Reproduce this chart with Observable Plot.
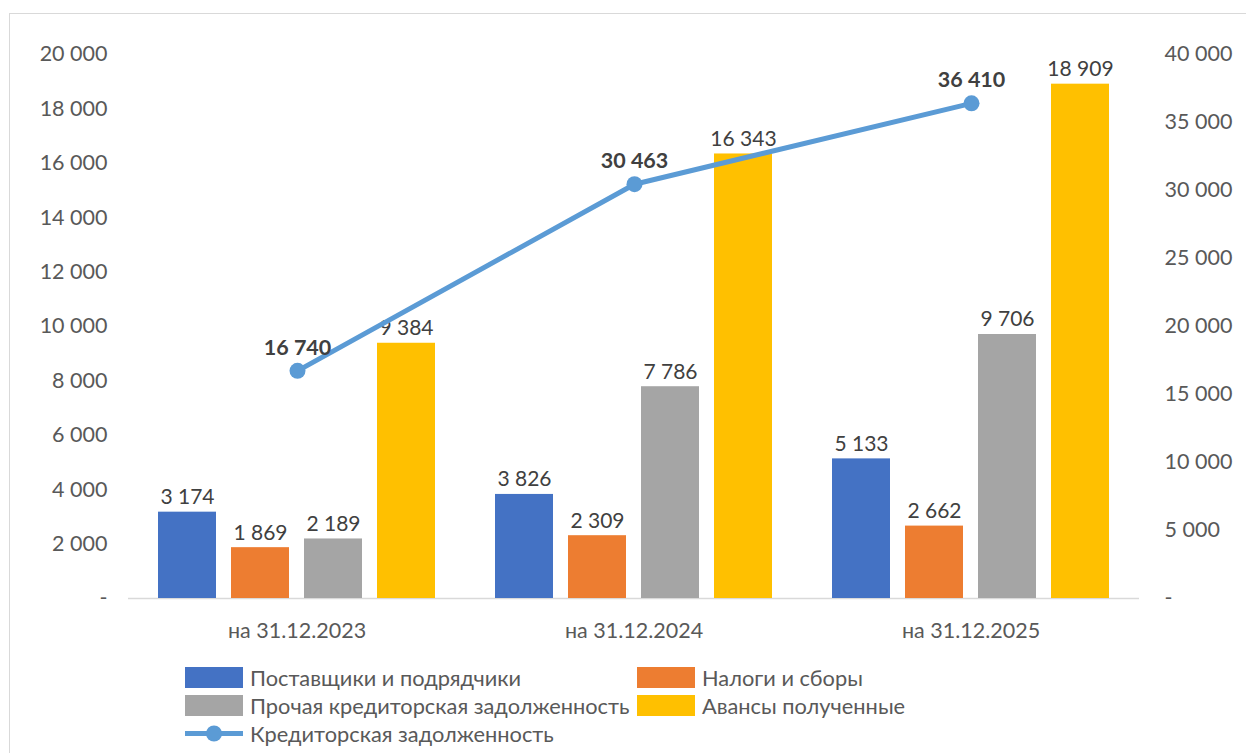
<!DOCTYPE html>
<html>
<head>
<meta charset="utf-8">
<script src="https://cdn.jsdelivr.net/npm/d3@7"></script>
<script src="https://cdn.jsdelivr.net/npm/@observablehq/plot@0.6"></script>
<style>
  html, body { margin: 0; padding: 0; background: #fff; overflow: hidden; }
  #frame { position: absolute; left: 9px; top: 13px; width: 1400px; height: 900px; border: 1px solid #d9d9d9; box-sizing: border-box; }
  #wrap { position: absolute; left: 0; top: 0; width: 1246px; height: 640px; }
  #wrap svg { position: absolute; left: 0; top: 0; }
  #legend { position: absolute; left: 185px; top: 663px; font-family: Lato, sans-serif; font-size: 21.8px; color: #595959; }
  .row { display: flex; height: 28px; align-items: center; }
  .item { display: flex; align-items: center; }
  .sw { width: 58px; height: 21px; margin-right: 7px; }
  .c1 { width: 452px; }
</style>
</head>
<body>
<div id="frame"></div>
<div id="wrap"></div>
<div id="legend"></div>
<script>
const groups = ["на 31.12.2023", "на 31.12.2024", "на 31.12.2025"];
const seriesNames = ["Поставщики и подрядчики", "Налоги и сборы", "Прочая кредиторская задолженность", "Авансы полученные"];
const seriesColors = ["#4472C4", "#ED7D31", "#A5A5A5", "#FFC000"];
const suppliers = [3174, 3826, 5133];
const taxes = [1869, 2309, 2662];
const otherPayables = [2189, 7786, 9706];
const advances = [9384, 16343, 18909];
const totalName = "Кредиторская задолженность";
const totalColor = "#5B9BD5";
const totalPayables = [16740, 30463, 36410];
const leftTicks = [0, 2000, 4000, 6000, 8000, 10000, 12000, 14000, 16000, 18000, 20000];
const rightTicks = [0, 5000, 10000, 15000, 20000, 25000, 30000, 35000, 40000];

const loc = d3.formatLocale({decimal: ",", thousands: "\u00a0", grouping: [3], currency: ["", ""]});
const fmt = loc.format(",");
const tickFmt = d => d === 0 ? "-" : fmt(d);

const seriesValues = [suppliers, taxes, otherPayables, advances];
const bars = [];
groups.forEach((g, i) => seriesNames.forEach((s, k) => bars.push({group: g, series: s, value: seriesValues[k][i]})));
const line = groups.map((g, i) => ({group: g, value: totalPayables[i]}));

const W = 1246, H = 640, ML = 127, MR = 106, MT = 54, MB = 42;

const p1 = Plot.plot({
  width: W, height: H, marginLeft: ML, marginRight: MR, marginTop: MT, marginBottom: MB,
  style: {fontFamily: "Lato, sans-serif", background: "transparent", overflow: "visible"},
  fx: {domain: groups, padding: 0, label: null},
  x: {domain: seriesNames, paddingInner: 0.2, paddingOuter: 0.38, axis: null},
  y: {domain: [0, 20000], label: null, axis: null},
  color: {domain: seriesNames, range: seriesColors},
  marks: [
    Plot.ruleY([0], {stroke: "#d9d9d9", strokeWidth: 1.5}),
    Plot.barY(bars, {fx: "group", x: "series", y: "value", fill: "series"}),
    Plot.text(bars, {fx: "group", x: "series", y: "value", text: d => fmt(d.value), lineAnchor: "bottom", dy: -8, fontSize: 21, fill: "#404040"}),
    Plot.axisY({ticks: leftTicks, tickFormat: tickFmt, tickSize: 0, tickPadding: 21, fontSize: 21.5, color: "#595959", label: null}),
    Plot.axisFx({anchor: "bottom", tickSize: 0, tickPadding: 24, fontSize: 21.5, color: "#595959", label: null})
  ]
});

const p2 = Plot.plot({
  width: W, height: H, marginLeft: ML, marginRight: MR, marginTop: MT, marginBottom: MB,
  style: {fontFamily: "Lato, sans-serif", background: "transparent", overflow: "visible"},
  x: {type: "point", domain: groups, padding: 0.5, axis: null},
  y: {domain: [0, 40000], label: null, axis: null},
  marks: [
    Plot.line(line, {x: "group", y: "value", stroke: totalColor, strokeWidth: 5}),
    Plot.dot(line, {x: "group", y: "value", r: 8, fill: totalColor}),
    Plot.text(line, {x: "group", y: "value", text: d => fmt(d.value), dy: -23, fontSize: 21.5, fontWeight: "bold", fill: "#404040"}),
    Plot.axisY({anchor: "right", ticks: rightTicks, tickFormat: tickFmt, tickSize: 0, tickPadding: 24, fontSize: 21.5, color: "#595959", label: null})
  ]
});

document.getElementById("wrap").append(p1, p2);

const legend = document.getElementById("legend");
const rows = [[0, 1], [2, 3]];
rows.forEach(r => {
  const row = document.createElement("div");
  row.className = "row";
  r.forEach((k, j) => {
    const it = document.createElement("div");
    it.className = "item" + (j === 0 ? " c1" : "");
    it.innerHTML = `<div class="sw" style="background:${seriesColors[k]}"></div><span>${seriesNames[k]}</span>`;
    row.append(it);
  });
  legend.append(row);
});
const lrow = document.createElement("div");
lrow.className = "row";
lrow.innerHTML = `<div class="item"><svg width="58" height="21" style="margin-right:7px"><line x1="0" x2="58" y1="10.5" y2="10.5" stroke="${totalColor}" stroke-width="5"/><circle cx="29" cy="10.5" r="8" fill="${totalColor}"/></svg><span>${totalName}</span></div>`;
legend.append(lrow);
</script>
</body>
</html>
